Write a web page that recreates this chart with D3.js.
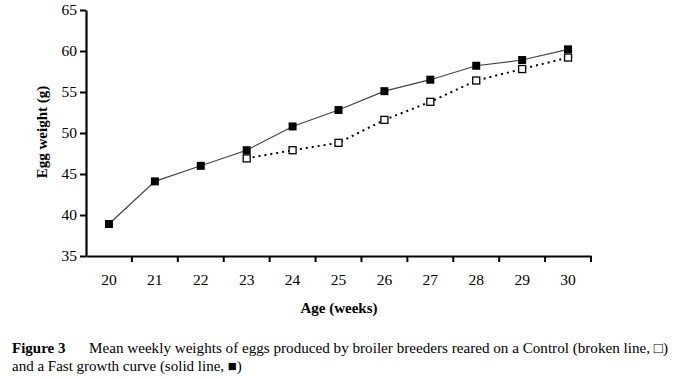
<!DOCTYPE html>
<html>
<head>
<meta charset="utf-8">
<script src="https://cdn.jsdelivr.net/npm/d3@7"></script>
<style>
  body { margin: 0; background: #fff; }
  svg, svg text { font-family: "Liberation Serif", "Times New Roman", serif; }
</style>
</head>
<body>
<svg width="675" height="379"></svg>
<script>
// weeks of age
let weeks = [20, 21, 22, 23, 24, 25, 26, 27, 28, 29, 30];
// Fast growth curve (solid line, filled squares)
let fastWeight = [38.9, 44.1, 46.0, 47.9, 50.8, 52.8, 55.1, 56.5, 58.2, 58.9, 60.2];
// Control (broken line, open squares), starts at week 23
let controlWeeks = [23, 24, 25, 26, 27, 28, 29, 30];
let controlWeight = [46.9, 47.9, 48.8, 51.6, 53.8, 56.4, 57.8, 59.2];
let yTicks = [35, 40, 45, 50, 55, 60, 65];

function drawChart() {
  let svg = d3.select("svg");
  let serif = "'Liberation Serif', 'Times New Roman', serif";

  let x = d3.scaleBand().domain(weeks).range([86, 591]);
  let y = d3.scaleLinear().domain([35, 65]).range([256, 10]);
  let cx = d => x(d) + x.bandwidth() / 2;

  // y axis
  let yAxis = svg.append("g")
    .attr("transform", "translate(86,0)")
    .call(d3.axisLeft(y).tickValues(yTicks).tickSize(6).tickSizeOuter(0).tickPadding(3));
  yAxis.select(".domain").attr("stroke-width", 2.2);
  yAxis.selectAll(".tick line").attr("stroke-width", 2);
  yAxis.selectAll("text")
    .style("font-family", serif)
    .style("font-size", "15.5px")
    .attr("fill", "#000");

  // x axis: labels centred in bands, ticks on band edges
  let xAxis = svg.append("g")
    .attr("transform", "translate(0,256)")
    .call(d3.axisBottom(x).tickSize(0).tickPadding(18));
  xAxis.select(".domain").attr("stroke-width", 2.2);
  xAxis.selectAll("text")
    .style("font-family", serif)
    .style("font-size", "15.5px")
    .attr("fill", "#000");

  let edges = weeks.map(d => x(d)).concat([x.range()[1]]);
  xAxis.selectAll("line.edge")
    .data(edges.slice(1))
    .join("line")
    .attr("class", "edge")
    .attr("x1", d => d).attr("x2", d => d)
    .attr("y1", 0).attr("y2", 6)
    .attr("stroke", "#000")
    .attr("stroke-width", 2);

  // axis titles
  svg.append("text")
    .attr("x", 339).attr("y", 313)
    .attr("text-anchor", "middle")
    .style("font-size", "15px").style("font-weight", "bold")
    .text("Age (weeks)");

  svg.append("text")
    .attr("transform", "translate(47,132) rotate(-90)")
    .attr("text-anchor", "middle")
    .style("font-size", "15px").style("font-weight", "bold")
    .text("Egg weight (g)");

  // series
  let fastData = weeks.map((w, i) => ({ week: w, value: fastWeight[i] }));
  let controlData = controlWeeks.map((w, i) => ({ week: w, value: controlWeight[i] }));

  let line = d3.line().x(d => cx(d.week)).y(d => y(d.value));

  svg.append("path")
    .datum(controlData)
    .attr("d", line)
    .attr("fill", "none")
    .attr("stroke", "#000")
    .attr("stroke-width", 2)
    .attr("stroke-dasharray", "2,4");

  svg.append("path")
    .datum(fastData)
    .attr("d", line)
    .attr("fill", "none")
    .attr("stroke", "#444")
    .attr("stroke-width", 1.2);

  svg.append("g")
    .selectAll("rect")
    .data(controlData)
    .join("rect")
    .attr("x", d => cx(d.week) - 3.5)
    .attr("y", d => y(d.value) - 3.5)
    .attr("width", 7).attr("height", 7)
    .attr("fill", "#fff")
    .attr("stroke", "#000")
    .attr("stroke-width", 1.3);

  svg.append("g")
    .selectAll("rect")
    .data(fastData)
    .join("rect")
    .attr("x", d => cx(d.week) - 4)
    .attr("y", d => y(d.value) - 4)
    .attr("width", 8).attr("height", 8)
    .attr("fill", "#000");

  // caption
  let cap = svg.append("g").style("font-size", "15px");
  cap.append("text")
    .attr("x", 12).attr("y", 353)
    .style("font-weight", "bold")
    .text("Figure 3");
  cap.append("text")
    .attr("x", 89).attr("y", 353)
    .attr("textLength", 579)
    .attr("lengthAdjust", "spacingAndGlyphs")
    .text("Mean weekly weights of eggs produced by broiler breeders reared on a Control (broken line, \u25A1)");
  cap.append("text")
    .attr("x", 12).attr("y", 371)
    .text("and a Fast growth curve (solid line, \u25A0)");
}

drawChart();
</script>
</body>
</html>
